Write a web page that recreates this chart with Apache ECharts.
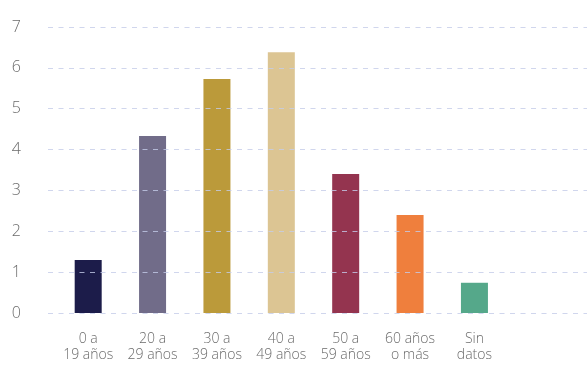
<!DOCTYPE html>
<html>
<head>
<meta charset="utf-8">
<script src="https://cdn.jsdelivr.net/npm/echarts@6/dist/echarts.min.js"></script>
<style>
  html, body { margin: 0; padding: 0; background: #ffffff; }
  #chart { width: 587px; height: 365px; }
</style>
</head>
<body>
<div id="chart"></div>
<script>
// Age groups and their values
const categories = ['0 a\n19 años', '20 a\n29 años', '30 a\n39 años', '40 a\n49 años', '50 a\n59 años', '60 años\no más', 'Sin\ndatos'];
const values = [1.3, 4.33, 5.73, 6.38, 3.4, 2.4, 0.74];
const yTicks = [0, 1, 2, 3, 4, 5, 6, 7];

// One colour per age group
const palette = ['#1c1c4a', '#716c89', '#bb9a3a', '#dcc593', '#94344f', '#ef7f3d', '#55a88a'];

const FONT = '"Open Sans", sans-serif';
const TEXT = '#6b6b6b';

const chart = echarts.init(document.getElementById('chart'), null, { renderer: 'canvas' });

chart.setOption({
  animation: false,
  backgroundColor: '#ffffff',
  grid: [
    // bars
    { left: 56, right: 16, top: 27, bottom: 52 },
    // value axis labels and dashed guides, drawn over the bars
    { left: 48, right: 0, top: 27, bottom: 52, z: 10 }
  ],
  xAxis: [
    {
      type: 'category',
      gridIndex: 0,
      data: categories.concat(['']),
      axisLine: { show: false },
      axisTick: { show: false },
      axisLabel: {
        interval: 0,
        margin: 18,
        fontFamily: FONT,
        fontWeight: 300,
        fontSize: 14,
        lineHeight: 16,
        color: TEXT
      }
    },
    {
      type: 'category',
      gridIndex: 1,
      data: [''],
      show: false
    }
  ],
  yAxis: [
    {
      type: 'value',
      gridIndex: 0,
      min: 0, max: 7, interval: 1,
      axisLabel: { show: false },
      axisLine: { show: false },
      axisTick: { show: false },
      splitLine: { show: false }
    },
    {
      type: 'value',
      gridIndex: 1,
      min: yTicks[0], max: yTicks[yTicks.length - 1], interval: 1,
      z: 10,
      axisLine: { show: false },
      axisTick: { show: false },
      axisLabel: {
        margin: 27,
        fontFamily: FONT,
        fontWeight: 300,
        fontSize: 16,
        color: TEXT
      },
      splitLine: {
        show: true,
        lineStyle: { color: 'rgba(196,204,232,0.8)', type: [5, 5.5], width: 1 }
      }
    }
  ],
  series: [
    {
      type: 'bar',
      xAxisIndex: 0,
      yAxisIndex: 0,
      barWidth: 27,
      z: 2,
      data: values.map((v, i) => ({ value: v, itemStyle: { color: palette[i] } }))
    }
  ]
});
</script>
</body>
</html>
